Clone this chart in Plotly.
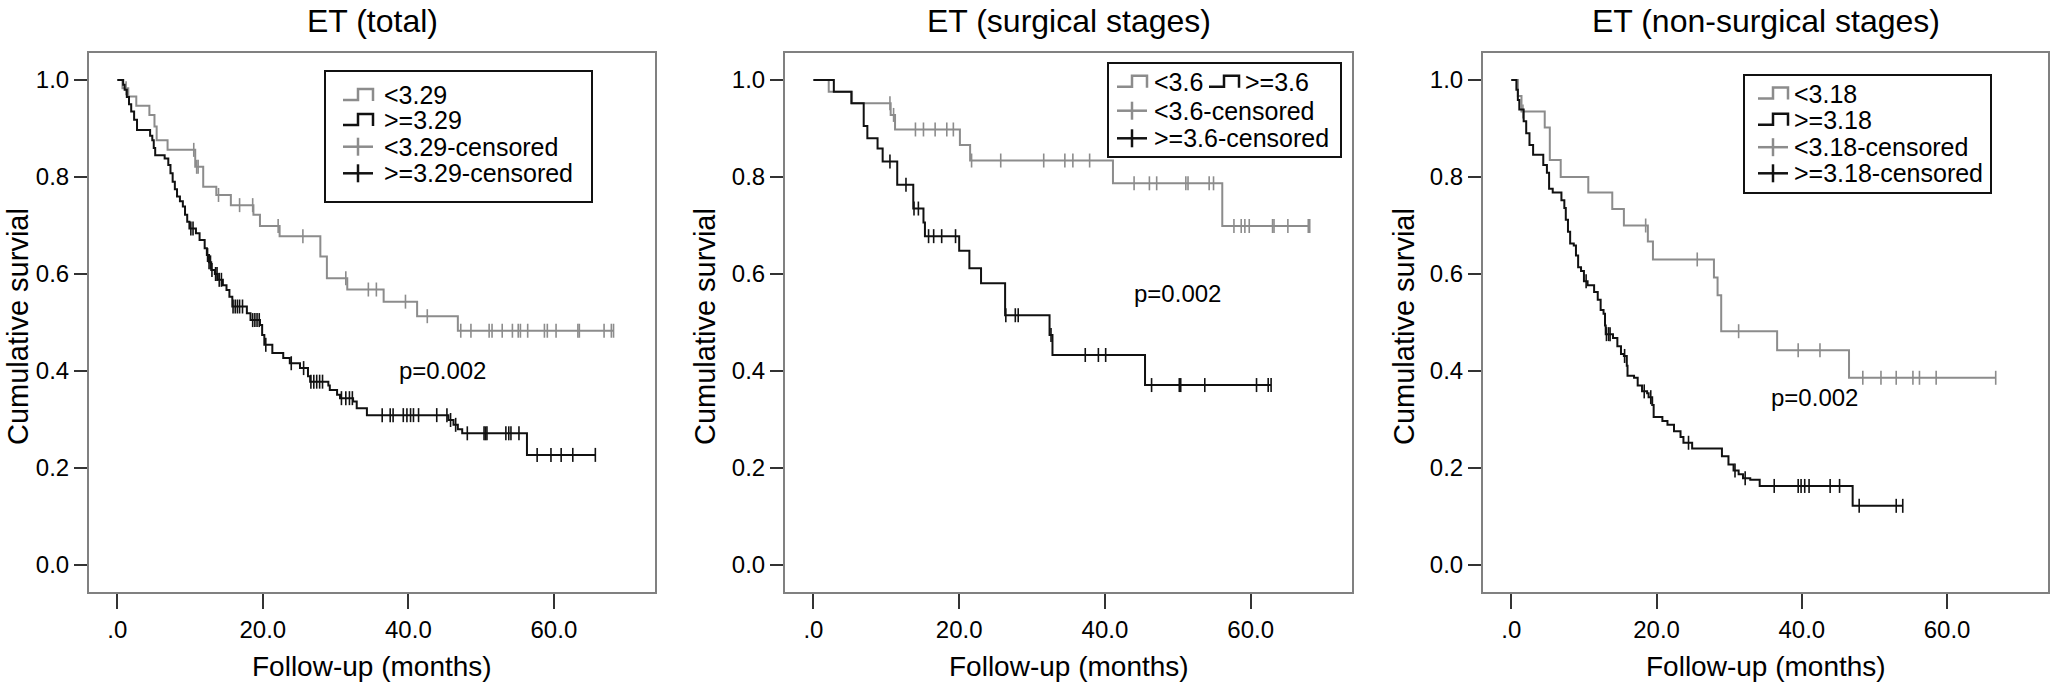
import plotly.graph_objects as go

# ---------------- data ----------------
# Panel 1: ET (total)
p1_low_t = [0.7, 1.5, 2.6, 4.4, 5.1, 5.4, 6.9, 10.7, 11.8, 13.6, 15.6, 18.7, 19.6, 22.3, 27.9, 28.8, 31.6, 36.6, 41.2, 46.8]
p1_low_s = [0.983, 0.966, 0.947, 0.928, 0.904, 0.876, 0.856, 0.821, 0.780, 0.763, 0.742, 0.722, 0.699, 0.678, 0.636, 0.591, 0.568, 0.543, 0.513, 0.483]
p1_low_cens = [1.2, 10.5, 10.9, 11.1, 13.9, 16.8, 18.6, 22.1, 25.5, 31.4, 34.5, 35.6, 39.6, 42.6, 47.2, 48.6, 51.1, 51.5,
               52.9, 54.3, 55.1, 55.4, 56.4, 58.7, 59.1, 60.3, 63.3, 63.5, 66.9, 67.9, 68.2]
p1_high_t = [0.8, 1.0, 1.3, 1.6, 1.9, 2.3, 2.7, 4.5, 4.8, 5.0, 5.2, 6.5, 7.0, 7.3, 7.6, 7.9, 8.2, 8.6, 9.0, 9.3, 9.6, 9.9,
             10.8, 11.3, 12.0, 12.3, 12.6, 12.9, 13.4, 13.8, 14.5, 15.0, 15.4, 15.8, 17.8, 18.3, 19.6, 19.9, 20.2, 21.3,
             22.8, 23.7, 25.1, 26.2, 26.5, 29.0, 29.2, 30.2, 30.6, 32.4, 32.9, 34.3, 45.5, 46.2, 46.8, 47.4, 56.3]
p1_high_s = [0.99, 0.98, 0.965, 0.95, 0.935, 0.918, 0.897, 0.885, 0.876, 0.86, 0.845, 0.838, 0.825, 0.808, 0.79, 0.775,
             0.76, 0.75, 0.739, 0.722, 0.708, 0.694, 0.684, 0.67, 0.653, 0.639, 0.624, 0.608, 0.60, 0.588, 0.577, 0.567,
             0.553, 0.533, 0.519, 0.505, 0.495, 0.474, 0.454, 0.437, 0.427, 0.416, 0.406, 0.389, 0.378, 0.37, 0.361,
             0.351, 0.344, 0.337, 0.323, 0.309, 0.299, 0.289, 0.28, 0.2715, 0.227]
p1_high_cens = [10.1, 10.4, 12.4, 12.6, 12.8, 13.0, 13.5, 13.7, 14.0, 14.3, 15.9, 16.2, 16.5, 16.8, 17.2, 18.6, 18.9, 19.2,
                19.5, 20.4, 23.9, 25.6, 26.6, 27.0, 27.4, 27.8, 28.2, 30.8, 31.4, 31.9, 32.3, 36.4, 37.5, 37.9, 39.3,
                39.8, 40.3, 40.7, 41.4, 43.9, 45.3, 45.8, 46.5, 48.1, 50.4, 50.6, 50.8, 53.4, 53.8, 54.1, 55.2, 57.7,
                59.6, 61.0, 62.6, 65.7]

# Panel 2: ET (surgical stages)
p2_low_t = [2.1, 5.3, 10.6, 11.2, 20.1, 21.5, 41.1, 56.1]
p2_low_s = [0.976, 0.952, 0.928, 0.898, 0.866, 0.834, 0.787, 0.699]
p2_low_cens = [10.5, 11.0, 14.0, 15.1, 16.7, 18.3, 19.2, 21.7, 25.7, 31.6, 34.5, 35.6, 37.9, 44.0, 46.1, 47.1, 51.1,
               51.4, 54.3, 54.9, 57.7, 58.7, 59.2, 59.8, 63.0, 63.2, 65.1, 67.9, 68.1]
p2_high_t = [2.8, 5.2, 6.9, 7.4, 8.8, 9.5, 11.5, 13.7, 15.1, 15.3, 20.0, 21.4, 23.0, 26.3, 32.4, 32.8, 45.5]
p2_high_s = [0.976, 0.952, 0.905, 0.88, 0.859, 0.832, 0.784, 0.735, 0.706, 0.678, 0.648, 0.612, 0.581, 0.515, 0.474,
             0.433, 0.371]
p2_high_cens = [10.5, 12.7, 13.8, 14.4, 15.8, 16.5, 17.6, 19.5, 26.4, 27.7, 28.1, 32.6, 37.3, 39.1, 40.1, 46.4, 50.2,
                50.4, 53.7, 60.8, 62.4, 62.8]

# Panel 3: ET (non-surgical stages)
p3_low_t = [0.9, 1.4, 4.6, 5.3, 6.8, 10.6, 13.9, 15.5, 18.8, 19.5, 27.9, 28.4, 28.9, 36.6, 46.5]
p3_low_s = [0.967, 0.935, 0.902, 0.835, 0.80, 0.768, 0.734, 0.70, 0.667, 0.63, 0.593, 0.556, 0.482, 0.443, 0.386]
p3_low_cens = [1.6, 18.5, 25.6, 31.3, 39.5, 42.5, 48.4, 50.9, 53.0, 55.3, 56.2, 58.5, 66.7]
p3_high_t = [0.7, 0.9, 1.1, 1.7, 2.05, 2.5, 3.0, 4.4, 4.9, 5.2, 5.7, 6.9, 7.3, 7.5, 7.8, 8.1, 8.6, 8.9, 9.2, 9.6, 10.0,
             10.5, 11.4, 11.9, 12.3, 12.7, 12.9, 13.0, 14.0, 14.6, 15.1, 15.5, 15.9, 16.0, 16.9, 17.4, 18.0, 18.7, 18.9,
             19.4, 19.6, 20.8, 21.5, 22.4, 23.3, 23.7, 24.9, 29.0, 29.9, 30.6, 31.3, 31.9, 32.9, 34.2, 47.0]
p3_high_s = [0.98, 0.959, 0.939, 0.915, 0.89, 0.866, 0.846, 0.825, 0.809, 0.776, 0.768, 0.752, 0.736, 0.712, 0.687,
             0.663, 0.659, 0.638, 0.614, 0.606, 0.585, 0.577, 0.563, 0.547, 0.526, 0.518, 0.494, 0.476, 0.468, 0.451,
             0.435, 0.431, 0.411, 0.39, 0.386, 0.37, 0.358, 0.354, 0.346, 0.33, 0.305, 0.297, 0.289, 0.276, 0.264,
             0.252, 0.24, 0.224, 0.207, 0.195, 0.187, 0.179, 0.176, 0.163, 0.122]
p3_high_cens = [10.3, 13.1, 13.4, 13.6, 15.6, 18.3, 19.2, 24.4, 30.8, 32.2, 36.2, 39.5, 39.9, 40.4, 41.0, 43.9, 45.2,
                47.9, 53.0, 53.9]

titles = ["ET (total)", "ET (surgical stages)", "ET (non-surgical stages)"]
legend_labels = [["&lt;3.29", "&gt;=3.29", "&lt;3.29-censored", "&gt;=3.29-censored"],
                 ["&lt;3.6", "&gt;=3.6", "&lt;3.6-censored", "&gt;=3.6-censored"],
                 ["&lt;3.18", "&gt;=3.18", "&lt;3.18-censored", "&gt;=3.18-censored"]]
p_text = "p=0.002"
x_tick_vals = [0, 20, 40, 60]
x_tick_text = [".0", "20.0", "40.0", "60.0"]
y_tick_vals = [0.0, 0.2, 0.4, 0.6, 0.8, 1.0]
y_tick_text = ["0.0", "0.2", "0.4", "0.6", "0.8", "1.0"]
x_title = "Follow-up (months)"
y_title = "Cumulative survial"

# ---------------- layout helpers ----------------
W, H = 2050, 683
FONT = "Liberation Sans, Arial, Helvetica, sans-serif"
GRAY = "#8c8c8c"
BLACK = "#111111"


def fx(x):
    return x / W


def fy(y):
    return 1 - y / H


def step_xy(times, surv, cens):
    end = max(cens[-1], times[-1])
    return [0.0] + list(times) + [end], [1.0] + list(surv) + [surv[-1]]


def level_at(times, surv, t):
    s = 1.0
    for ti, si in zip(times, surv):
        if ti <= t:
            s = si
    return s


panels = [
    dict(left=89, right=655, low=(p1_low_t, p1_low_s, p1_low_cens), high=(p1_high_t, p1_high_s, p1_high_cens),
         ytitle_x=18, p_xy=(442, 370),
         box=(325, 71, 592, 202),
         rows=[("step", GRAY, 343, 95, 382), ("step", BLACK, 343, 120, 382),
               ("plus", GRAY, 343, 146.7, 382), ("plus", BLACK, 343, 173.3, 382)]),
    dict(left=785, right=1352, low=(p2_low_t, p2_low_s, p2_low_cens), high=(p2_high_t, p2_high_s, p2_high_cens),
         ytitle_x=705, p_xy=(1177, 293),
         box=(1108, 63, 1341, 157),
         rows=[("step", GRAY, 1117, 81.7, 1152), ("step", BLACK, 1209, 81.7, 1243),
               ("plus", GRAY, 1117, 110.7, 1152), ("plus", BLACK, 1117, 138.3, 1152)]),
    dict(left=1483, right=2048, low=(p3_low_t, p3_low_s, p3_low_cens), high=(p3_high_t, p3_high_s, p3_high_cens),
         ytitle_x=1404, p_xy=(1814, 397),
         box=(1744, 75, 1991, 193),
         rows=[("step", GRAY, 1758, 93.6, 1792), ("step", BLACK, 1758, 119.8, 1792),
               ("plus", GRAY, 1758, 147.2, 1792), ("plus", BLACK, 1758, 173.3, 1792)]),
]

TOP, BOTTOM = 53, 592
fig = go.Figure()
shapes = []
annotations = []

for i, p in enumerate(panels):
    n = "" if i == 0 else str(i + 1)
    xa, ya = "x" + n, "y" + n
    for (t, s, c), col in ((p["low"], GRAY), (p["high"], BLACK)):
        xs, ys = step_xy(t, s, c)
        fig.add_trace(go.Scatter(x=xs, y=ys, mode="lines", line=dict(color=col, width=2, shape="hv"),
                                 xaxis=xa, yaxis=ya, showlegend=False, hoverinfo="skip"))
        fig.add_trace(go.Scatter(x=c, y=[level_at(t, s, ci) for ci in c], mode="markers",
                                 marker=dict(symbol="line-ns", size=10, line=dict(color=col, width=1.6)),
                                 xaxis=xa, yaxis=ya, showlegend=False, hoverinfo="skip"))
    axis_common = dict(showline=True, mirror=True, linecolor="#808080", linewidth=2, showgrid=False,
                       zeroline=False, ticks="outside", tickcolor="#333333", tickwidth=1.5,
                       tickfont=dict(family=FONT, size=24, color="black"))
    fig.update_layout(**{
        "xaxis" + n: dict(domain=[fx(p["left"]), fx(p["right"])], range=[-3.9, 73.9], anchor=ya,
                          tickvals=x_tick_vals, ticktext=x_tick_text, ticklen=15, **axis_common),
        "yaxis" + n: dict(domain=[fy(BOTTOM), fy(TOP)], range=[-0.0557, 1.0557], anchor=xa,
                          tickvals=y_tick_vals, ticktext=y_tick_text, ticklen=13, **axis_common),
    })
    cx = (p["left"] + p["right"]) / 2
    annotations.append(dict(x=fx(cx), y=fy(21), xref="paper", yref="paper", text=titles[i], showarrow=False,
                            xanchor="center", yanchor="middle", font=dict(family=FONT, size=32, color="black")))
    annotations.append(dict(x=fx(cx), y=fy(666), xref="paper", yref="paper", text=x_title, showarrow=False,
                            xanchor="center", yanchor="middle", font=dict(family=FONT, size=28, color="black")))
    annotations.append(dict(x=fx(p["ytitle_x"]), y=fy(327), xref="paper", yref="paper", text=y_title,
                            showarrow=False, textangle=-90, xanchor="center", yanchor="middle",
                            font=dict(family=FONT, size=29, color="black")))
    annotations.append(dict(x=fx(p["p_xy"][0]), y=fy(p["p_xy"][1]), xref="paper", yref="paper", text=p_text,
                            showarrow=False, xanchor="center", yanchor="middle",
                            font=dict(family=FONT, size=24, color="black")))
    # custom legend box
    x0, y0, x1, y1 = p["box"]
    shapes.append(dict(type="rect", xref="paper", yref="paper", x0=fx(x0), x1=fx(x1), y0=fy(y1), y1=fy(y0),
                       line=dict(color=BLACK, width=2), fillcolor="white", layer="above"))
    for (kind, col, sx, yc, tx), label in zip(p["rows"], legend_labels[i]):
        if kind == "step":
            path = (f"M {fx(sx)},{fy(yc + 5)} L {fx(sx + 15)},{fy(yc + 5)} L {fx(sx + 15)},{fy(yc - 6)} "
                    f"L {fx(sx + 30)},{fy(yc - 6)} L {fx(sx + 30)},{fy(yc + 6)}")
            shapes.append(dict(type="path", xref="paper", yref="paper", path=path,
                               line=dict(color=col, width=2.5), layer="above"))
        else:
            shapes.append(dict(type="line", xref="paper", yref="paper", x0=fx(sx), x1=fx(sx + 30),
                               y0=fy(yc), y1=fy(yc), line=dict(color=col, width=2.5), layer="above"))
            shapes.append(dict(type="line", xref="paper", yref="paper", x0=fx(sx + 15), x1=fx(sx + 15),
                               y0=fy(yc - 9), y1=fy(yc + 9), line=dict(color=col, width=2.5), layer="above"))
        annotations.append(dict(x=fx(tx), y=fy(yc), xref="paper", yref="paper", text=label, showarrow=False,
                                xanchor="left", yanchor="middle", font=dict(family=FONT, size=25, color="black")))

fig.update_layout(width=W, height=H, margin=dict(l=0, r=0, t=0, b=0), paper_bgcolor="white",
                  plot_bgcolor="white", showlegend=False, shapes=shapes, annotations=annotations,
                  font=dict(family=FONT, color="black"))

# remove the browser's default 8px page margin so the figure fills the window exactly
fig.write_html("out.html", config={"displayModeBar": False},
               post_script="document.body.style.margin='0';document.body.style.overflow='hidden';")
